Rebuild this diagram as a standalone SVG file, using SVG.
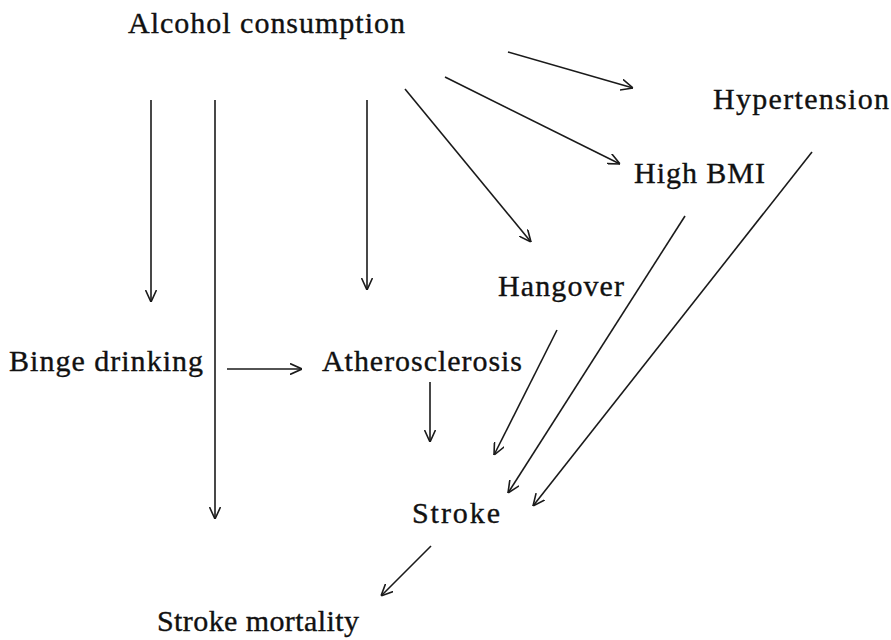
<svg xmlns="http://www.w3.org/2000/svg" width="891" height="640" viewBox="0 0 891 640">
<style>
text{font-family:"Times New Roman","Liberation Serif",Tinos,serif;font-size:30px;fill:#111;stroke:#111;stroke-width:0.35}
.c line{stroke:#1a1a1a;stroke-width:1.6;fill:none}
</style>
<defs>
<marker id="ah" viewBox="0 0 12 12" refX="12" refY="6" markerWidth="12" markerHeight="12" markerUnits="userSpaceOnUse" orient="auto">
<path d="M0,0.5 L12,6 L0,11.5" fill="none" stroke="#1a1a1a" stroke-width="1.6"/>
</marker>
</defs>
<rect width="891" height="640" fill="#fff"/>
<g id="n-alcohol"><text x="128" y="33" textLength="277" lengthAdjust="spacing">Alcohol consumption</text></g>
<g id="n-hypertension"><text x="713" y="109" textLength="176" lengthAdjust="spacing">Hypertension</text></g>
<g id="n-bmi"><text x="634" y="183" textLength="131" lengthAdjust="spacing">High BMI</text></g>
<g id="n-hangover"><text x="498" y="296" textLength="126" lengthAdjust="spacing">Hangover</text></g>
<g id="n-binge"><text x="9" y="371" textLength="194" lengthAdjust="spacing">Binge drinking</text></g>
<g id="n-athero"><text x="322" y="371" textLength="200" lengthAdjust="spacing">Atherosclerosis</text></g>
<g id="n-stroke"><text x="412" y="523" textLength="88" lengthAdjust="spacing">Stroke</text></g>
<g id="n-mortality"><text x="157" y="631" textLength="202" lengthAdjust="spacing">Stroke mortality</text></g>
<g id="connectors" class="c">
<line x1="151" y1="100" x2="151" y2="302" marker-end="url(#ah)"/>
<line x1="215" y1="100" x2="215" y2="519" marker-end="url(#ah)"/>
<line x1="367" y1="100" x2="367" y2="290" marker-end="url(#ah)"/>
<line x1="405" y1="89" x2="531" y2="242" marker-end="url(#ah)"/>
<line x1="445" y1="77" x2="620" y2="164" marker-end="url(#ah)"/>
<line x1="508" y1="52" x2="633" y2="88" marker-end="url(#ah)"/>
<line x1="227" y1="369" x2="302" y2="369" marker-end="url(#ah)"/>
<line x1="430" y1="382" x2="430" y2="442" marker-end="url(#ah)"/>
<line x1="557" y1="330" x2="494" y2="455" marker-end="url(#ah)"/>
<line x1="685" y1="216" x2="508" y2="493" marker-end="url(#ah)"/>
<line x1="812" y1="152" x2="533" y2="506" marker-end="url(#ah)"/>
<line x1="431" y1="546" x2="381" y2="596" marker-end="url(#ah)"/>
</g>
</svg>
